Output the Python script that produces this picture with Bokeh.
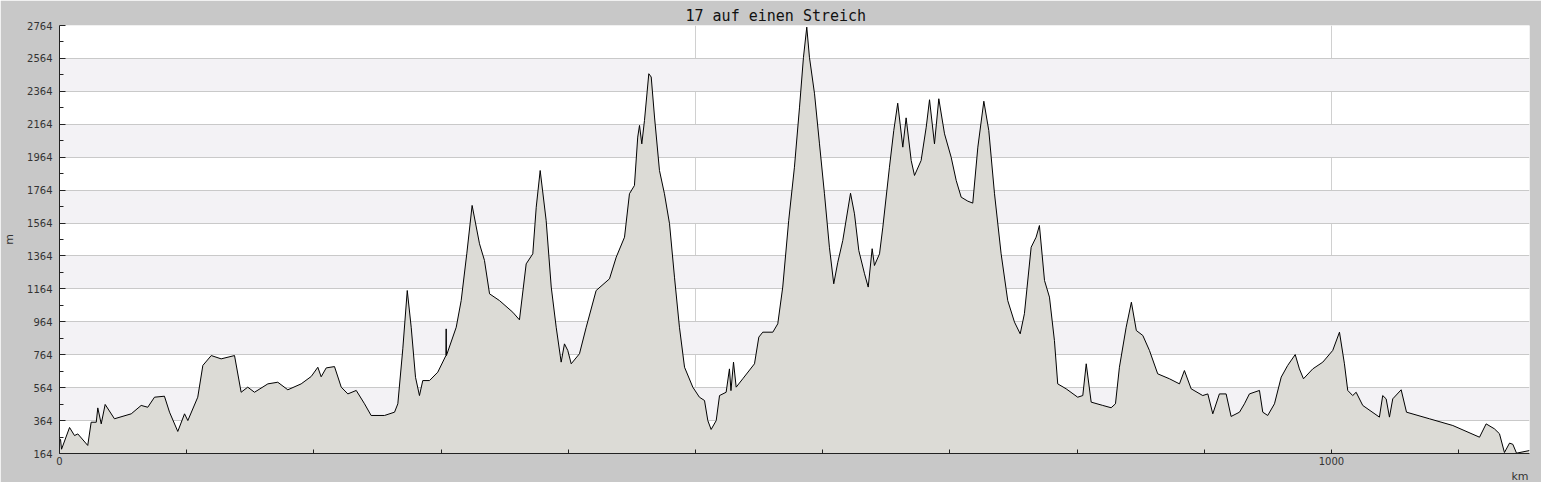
from bokeh.plotting import figure
from bokeh.models import Range1d, FixedTicker, Title
from bokeh.embed import file_html
from bokeh.resources import INLINE

title_text = "17 auf einen Streich"
x_unit = "km"
y_unit = "m"

km = [0, 0.8, 1.6, 7.9, 11.8, 14.4, 22.2, 24.9, 28.9, 30.1,
      32.8, 35.9, 43.2, 56.4, 64.2, 69.4, 74.7, 82.5, 86.5, 93.0,
      98.3, 100.9, 108.7, 112.7, 119.3, 127.1, 137.6, 142.8, 148.0, 153.3,
      163.8, 171.6, 179.5, 190.0, 197.9, 203.1, 205.7, 209.7, 216.2, 221.5,
      226.7, 233.3, 239.8, 245.0, 255.5, 263.4, 266.0, 269.9, 273.4, 276.5,
      279.9, 283.0, 285.6, 290.9, 297.4, 303.8, 304.0, 304.2, 311.9, 315.8,
      320.2, 324.4, 330.2, 334.1, 338.1, 345.9, 356.4, 361.6, 366.9, 372.1,
      374.8, 377.9, 382.6, 386.6, 390.5, 394.4, 397.0, 399.6, 402.3, 408.8,
      414.1, 421.9, 432.4, 437.7, 444.2, 448.1, 452.0, 454.6, 456.0, 457.8,
      459.9, 463.3, 465.2, 467.8, 471.7, 475.6, 479.6, 483.5, 487.4, 491.4,
      497.9, 503.1, 507.1, 509.7, 512.3, 516.3, 518.9, 524.1, 526.7, 527.9,
      529.9, 532.0, 537.2, 546.4, 549.8, 552.9, 560.8, 564.7, 568.6, 573.3,
      577.8, 581.8, 584.9, 587.5, 589.6, 593.6, 597.5, 601.4, 605.3, 608.7,
      611.9, 615.8, 621.9, 625.0, 628.4, 632.9, 635.8, 638.9, 640.7, 644.7,
      647.3, 652.5, 655.9, 659.0, 663.0, 665.6, 669.6, 672.2, 677.4, 681.4,
      684.0, 687.9, 691.3, 695.8, 701.0, 705.0, 708.9, 714.1, 718.0, 722.0,
      726.7, 730.6, 735.1, 740.3, 745.5, 750.8, 755.3, 758.6, 763.9, 767.8,
      770.4, 774.4, 778.3, 782.2, 784.8, 791.4, 800.5, 804.5, 807.2, 811.1,
      820.2, 826.8, 830.2, 833.3, 838.6, 842.7, 846.6, 851.7, 856.9, 863.4,
      872.6, 880.5, 884.4, 889.7, 898.8, 902.8, 906.7, 911.9, 917.2, 921.1,
      927.7, 931.6, 935.5, 943.4, 946.0, 949.9, 955.2, 960.5, 965.6, 971.5,
      974.8, 978.0, 985.3, 993.2, 1001.0, 1006.3, 1010.2, 1012.8, 1016.7, 1019.4,
      1024.6, 1037.7, 1040.3, 1043.0, 1045.6, 1048.2, 1054.8, 1059.0, 1077.0, 1095.4,
      1116.4, 1121.6, 1128.1, 1132.1, 1136.0, 1140.0, 1142.6, 1145.5, 1155.7]

elev = [250, 250, 190, 322, 273, 283, 213, 354, 354, 441,
        344, 462, 375, 405, 456, 445, 506, 512, 415, 298,
        405, 364, 506, 699, 759, 739, 759, 536, 567, 536,
        587, 597, 551, 587, 632, 688, 630, 684, 692, 567,
        526, 547, 466, 395, 395, 415, 466, 800, 1154, 931,
        627, 516, 607, 607, 658, 759, 921, 759, 931, 1093,
        1377, 1671, 1438, 1337, 1134, 1093, 1022, 976, 1316, 1377,
        1660, 1883, 1580, 1175, 931, 719, 830, 790, 709, 770,
        931, 1154, 1225, 1357, 1478, 1742, 1792, 2086, 2157, 2045,
        2187, 2471, 2451, 2208, 1883, 1742, 1560, 1235, 931, 688,
        567, 506, 486, 364, 310, 364, 516, 536, 678, 546,
        719, 567, 618, 709, 871, 901, 901, 952, 1175, 1580,
        1903, 2268, 2571, 2754, 2571, 2349, 2045, 1742, 1417, 1195,
        1326, 1458, 1745, 1620, 1397, 1256, 1175, 1408, 1306, 1377,
        1539, 1903, 2126, 2292, 2025, 2203, 1944, 1853, 1944, 2146,
        2313, 2045, 2319, 2106, 1964, 1822, 1721, 1697, 1685, 2025,
        2304, 2126, 1742, 1377, 1093, 962, 891, 1013, 1417, 1478,
        1549, 1215, 1114, 850, 587, 557, 506, 516, 709, 476,
        456, 442, 466, 688, 931, 1083, 911, 881, 790, 648,
        618, 587, 668, 557, 516, 526, 405, 526, 526, 389,
        415, 466, 526, 547, 415, 395, 466, 628, 699, 765,
        678, 618, 678, 719, 790, 901, 709, 547, 516, 536,
        456, 385, 516, 496, 385, 496, 551, 415, 375, 334,
        263, 344, 314, 284, 170, 227, 220, 166, 182]

y_ticks = [164, 364, 564, 764, 964, 1164, 1364, 1564, 1764, 1964, 2164, 2364, 2564, 2764]
y_minor = [264, 464, 664, 864, 1064, 1264, 1464, 1664, 1864, 2064, 2264, 2464, 2664]
x_ticks = [0, 100, 200, 300, 400, 500, 600, 700, 800, 900, 1000, 1100]
x_labeled = [0, 1000]
x_grid = [0, 500, 1000]
x_max = 1155.7

BG = "#c8c8c8"

p = figure(width=1537, height=483, output_backend="svg", toolbar_location=None,
           x_range=Range1d(0, x_max), y_range=Range1d(y_ticks[0], y_ticks[-1]),
           frame_width=1470, frame_height=428,
           min_border_left=55, min_border_right=12, min_border_bottom=20, min_border_top=25)
p.background_fill_color = "white"
p.border_fill_color = BG
p.outline_line_color = None

p.title.text = title_text
p.title.align = "left"
p.title.offset = 626
p.title.text_font = "DejaVu Sans Mono"
p.title.text_font_size = "15px"
p.title.text_font_style = "normal"
p.title.text_color = "#111111"
p.title.standoff = 2

# grids
p.ygrid.ticker = FixedTicker(ticks=y_ticks)
p.ygrid.grid_line_color = "#c9c9c9"
p.ygrid.band_fill_color = "#f3f2f5"
p.ygrid.band_fill_alpha = 1.0
p.xgrid.ticker = FixedTicker(ticks=x_grid)
p.xgrid.grid_line_color = "#d0d0d0"

# y axis
p.yaxis.ticker = FixedTicker(ticks=y_ticks, minor_ticks=y_minor)
p.yaxis.major_tick_in = 6
p.yaxis.major_tick_out = 0
p.yaxis.minor_tick_in = 4
p.yaxis.minor_tick_out = 0
p.yaxis.axis_label = y_unit
p.yaxis.axis_label_text_font_style = "normal"
p.yaxis.axis_label_text_font = "DejaVu Sans"
p.yaxis.axis_label_text_font_size = "11px"
p.yaxis.axis_label_text_color = "#333333"
p.yaxis.axis_label_standoff = 8
p.yaxis.major_label_text_font = "DejaVu Sans"
p.yaxis.major_label_text_font_size = "10px"
p.yaxis.major_label_text_color = "#333333"
p.yaxis.major_label_standoff = 7

# x axis
p.xaxis.ticker = FixedTicker(ticks=x_ticks)
p.xaxis.major_label_overrides = {t: (str(t) if t in x_labeled else "") for t in x_ticks}
p.xaxis.major_tick_in = 4
p.xaxis.major_tick_out = 0
p.xaxis.minor_tick_line_color = None
p.xaxis.major_label_text_font = "DejaVu Sans"
p.xaxis.major_label_text_font_size = "10px"
p.xaxis.major_label_text_color = "#333333"
p.xaxis.major_label_standoff = 3

for ax in (p.xaxis, p.yaxis):
    ax.axis_line_color = "#222222"
    ax.major_tick_line_color = "#222222"
p.yaxis.minor_tick_line_color = "#222222"

p.varea(x=km, y1=[y_ticks[0]] * len(km), y2=elev, fill_color="#dcdbd6")
p.line(x=km, y=elev, line_color="black", line_width=1)

p.add_layout(Title(text=x_unit, align="right", text_font="DejaVu Sans", text_font_size="11px",
                   text_font_style="normal", text_color="#333333", offset=1, standoff=0), "below")

html = file_html(p, INLINE, title=title_text)
html = html.replace("<body>", '<body style="background:#c8c8c8;">', 1)
open("out.html", "w").write(html)
